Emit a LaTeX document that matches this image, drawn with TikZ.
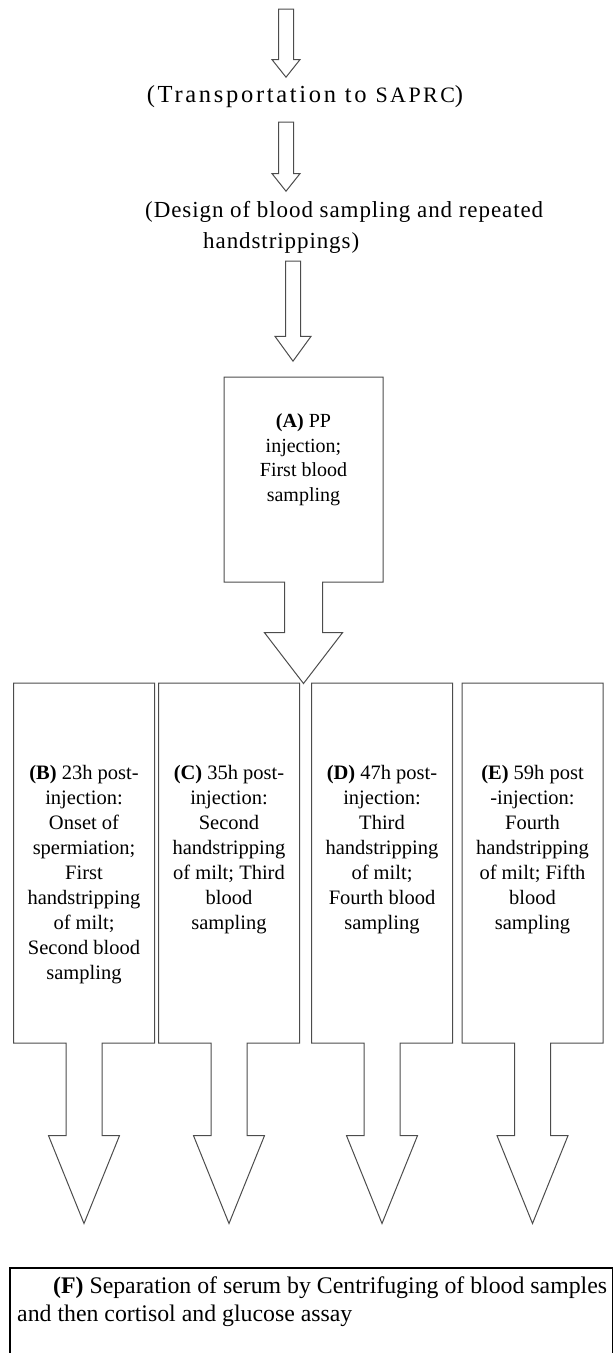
\documentclass[tikz,border=0pt]{standalone}
\usepackage{fontspec}
\setmainfont{Liberation Serif}
\newfontfamily\widefont{Liberation Serif}[LetterSpace=11]
\newfontfamily\halfwidefont{Liberation Serif}[LetterSpace=4]
\usetikzlibrary{shapes.arrows}
\usetikzlibrary{positioning}
\tikzset{
  flow arrow/.style={single arrow,draw=black!70,line width=1pt,shape border rotate=270,
    inner sep=7pt,minimum width=0pt,single arrow head extend=6.5pt,single arrow tip angle=77},
  stage box/.style={arrow box,draw=black!70,line width=1pt,minimum width=141pt,minimum height=360pt,
    arrow box arrows={south:180pt from border},arrow box shaft width=36pt,
    arrow box head extend=17.5pt,arrow box tip angle=44},
  stage text/.style={align=center,inner sep=0pt,font=\fontsize{20.5}{25}\selectfont}
}

\begin{document}
\begin{tikzpicture}[x=1pt,y=-1pt,node distance=83pt]
  \useasboundingbox (0,0) rectangle (613,1353);
  % way in
  \node[flow arrow,minimum height=68pt,anchor=tip] (arrow1) at (286,78) {};
  \node[anchor=base,inner sep=0pt,font=\widefont\fontsize{24.5}{28}\selectfont] (transport) at (305,102)
    {(Transportation to {\fontsize{22}{28}\selectfont SAPRC})};
  \node[flow arrow,minimum height=69pt,anchor=tip] (arrow2) at (286,192) {};
  \node[anchor=base west,align=left,inner sep=0pt,font=\halfwidefont\fontsize{23}{31}\selectfont] (design) at (145,248)
    {(Design of blood sampling and repeated\\\hspace*{58pt}handstrippings)};
  \node[flow arrow,minimum height=100pt,anchor=tip,single arrow head extend=10.5pt,single arrow tip angle=72] (arrow3) at (293,362) {};

  % injection
  \node[stage box,minimum width=159pt,minimum height=205pt,arrow box arrows={south:101pt from border},
    arrow box shaft width=38pt,arrow box head extend=20pt,arrow box tip angle=75] (boxA) at (303.5,479.5) {};
  \node[stage text,font=\fontsize{20}{24.5}\selectfont,below=37pt of boxA.north] (textA)
    {\textbf{(A)} PP\\injection;\\First blood\\sampling};

  % handstrippings
  \node[stage box] (boxB) at (84,863) {};
  \node[stage box] (boxC) at (229,863) {};
  \node[stage box] (boxD) at (382,863) {};
  \node[stage box] (boxE) at (532.5,863) {};
  \node[stage text,below=of boxB.north] (textB)
    {\textbf{(B)} 23h post-\\injection:\\Onset of\\spermiation;\\First\\handstripping\\of milt;\\Second blood\\sampling};
  \node[stage text,below=of boxC.north] (textC)
    {\textbf{(C)} 35h post-\\injection:\\Second\\handstripping\\of milt; Third\\blood\\sampling};
  \node[stage text,below=of boxD.north] (textD)
    {\textbf{(D)} 47h post-\\injection:\\Third\\handstripping\\of milt;\\Fourth blood\\sampling};
  \node[stage text,below=of boxE.north] (textE)
    {\textbf{(E)} 59h post\\-injection:\\Fourth\\handstripping\\of milt; Fifth\\blood\\sampling};

  % assay
  \node[draw,line width=1.5pt,minimum width=603pt,minimum height=120pt,anchor=north west,inner sep=0pt] (boxF) at (9,1267) {};
  \node[anchor=base west,align=left,inner sep=0pt,font=\fontsize{23.8}{28}\selectfont] (textF) at (17,1321)
    {\hspace*{36pt}\textbf{(F)} Separation of serum by Centrifuging of blood samples\\and then cortisol and glucose assay};
\end{tikzpicture}
\end{document}
